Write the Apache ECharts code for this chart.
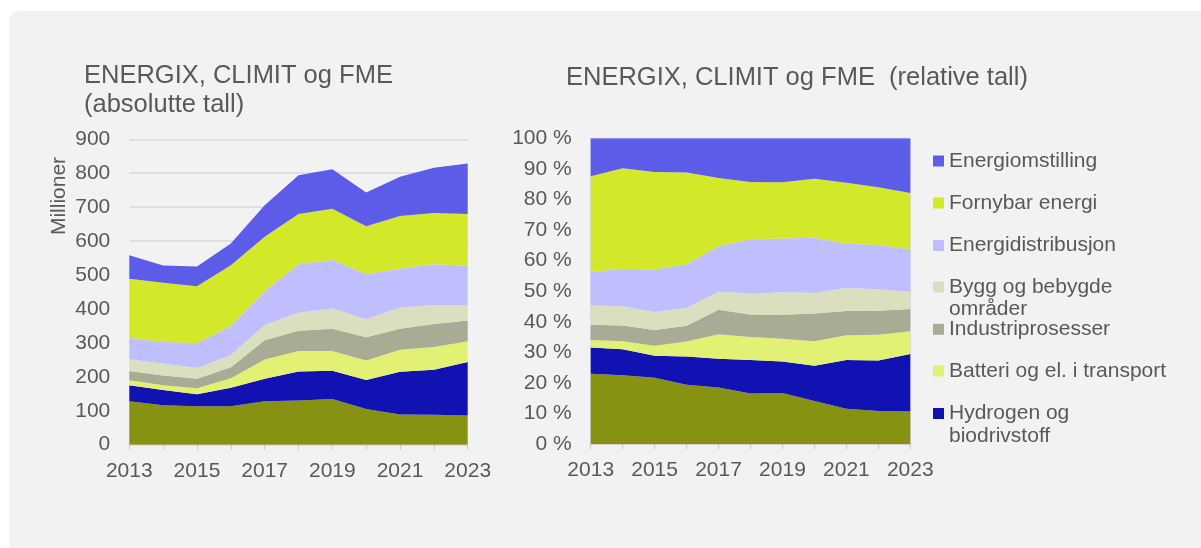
<!DOCTYPE html>
<html>
<head>
<meta charset="utf-8">
<script src="https://cdn.jsdelivr.net/npm/echarts@6/dist/echarts.min.js"></script>
<style>
  html, body { margin: 0; padding: 0; background: #ffffff; width: 1201px; height: 548px; overflow: hidden; }
  #panel { position: absolute; left: 9px; top: 11px; width: 1220px; height: 560px; background: #f2f2f2; border-radius: 10px; }
  #chart { position: absolute; left: 0; top: 0; width: 1201px; height: 548px; }
</style>
</head>
<body>
<div id="panel"></div>
<div id="chart"></div>
<script>
// ---- Data ----
const years = ['2013','2014','2015','2016','2017','2018','2019','2020','2021','2022','2023'];

const seriesNames = ['Øvrig','Hydrogen og biodrivstoff','Batteri og el. i transport','Industriprosesser',
  'Bygg og bebygde områder','Energidistribusjon','Fornybar energi','Energiomstilling'];

// absolute values (millioner)
const ovrigAbs      = [128,116,113,113,128,130,135,105, 89, 88, 86];
const hydrogenAbs   = [ 47, 45, 36, 55, 66, 86, 83, 86,126,133,158];
const batteriAbs    = [ 15, 14, 17, 28, 57, 60, 58, 57, 65, 67, 61];
const industriAbs   = [ 27, 29, 28, 32, 57, 60, 66, 69, 62, 68, 61];
const byggAbs       = [ 35, 35, 32, 36, 45, 53, 60, 53, 62, 56, 46];
const distAbs       = [ 63, 64, 74, 86,100,143,143,132,115,120,116];
const fornybarAbs   = [174,174,167,179,160,148,150,142,155,151,152];
const omstillingAbs = [ 69, 51, 58, 64, 93,114,117, 99,116,133,149];

// relative values (%)
const ovrigRel      = [23.0,22.5,21.7,19.4,18.5,16.5,16.7,14.1,11.5,10.8,10.6];
const hydrogenRel   = [ 8.6, 8.5, 7.2, 9.2, 9.4,11.0,10.3,11.5,16.0,16.5,18.8];
const batteriRel    = [ 2.4, 2.6, 3.2, 4.9, 8.0, 7.5, 7.4, 8.0, 8.1, 8.4, 7.5];
const industriRel   = [ 5.0, 5.2, 5.2, 5.2, 8.0, 7.4, 7.9, 9.1, 7.9, 7.9, 7.3];
const byggRel       = [ 6.3, 6.3, 5.9, 5.9, 5.9, 6.8, 7.3, 6.8, 7.5, 7.0, 5.5];
const distRel       = [11.0,12.2,13.9,14.2,14.9,17.8,17.6,18.0,14.5,14.5,14.0];
const fornybarRel   = [31.3,32.9,31.9,30.0,22.3,18.7,18.4,19.3,20.0,18.9,18.4];
const omstillingRel = [12.4, 9.8,11.0,11.2,13.0,14.3,14.4,13.2,14.5,16.0,17.9];

const absTicks = [0,100,200,300,400,500,600,700,800,900];
const relTicks = [0,10,20,30,40,50,60,70,80,90,100];

// ---- Styling ----
const colors = ['#879212','#1212b3','#e2f073','#a8ac94','#dadfc0','#bfbfff','#d4e82a','#5c5ce9'];
const FONT = "'Liberation Sans', Arial, sans-serif";
const TXT = '#595959';

const absData = [ovrigAbs,hydrogenAbs,batteriAbs,industriAbs,byggAbs,distAbs,fornybarAbs,omstillingAbs];
const relData = [ovrigRel,hydrogenRel,batteriRel,industriRel,byggRel,distRel,fornybarRel,omstillingRel];

function makeSeries(dataArr, idx, stack) {
  return dataArr.map((d, i) => ({
    name: seriesNames[i],
    type: 'line',
    xAxisIndex: idx, yAxisIndex: idx,
    stack: stack,
    data: d,
    symbol: 'none',
    showSymbol: false,
    lineStyle: { width: 0 },
    itemStyle: { color: colors[i] },
    areaStyle: { color: colors[i], opacity: 1 },
    emphasis: { disabled: true },
    z: 2
  }));
}

// legend: one component per item, centres
const legendItems = [
  { name: 'Energiomstilling', label: 'Energiomstilling', c: 161 },
  { name: 'Fornybar energi', label: 'Fornybar energi', c: 203 },
  { name: 'Energidistribusjon', label: 'Energidistribusjon', c: 245.5 },
  { name: 'Bygg og bebygde områder', label: 'Bygg og bebygde', second: 'områder', c: 287 },
  { name: 'Industriprosesser', label: 'Industriprosesser', c: 329.3 },
  { name: 'Batteri og el. i transport', label: 'Batteri og el. i transport', c: 371 },
  { name: 'Hydrogen og biodrivstoff', label: 'Hydrogen og', second: 'biodrivstoff', c: 413.5 }
];
const LH = 22.5;
const LEG_X = 933;
const legends = legendItems.map(it => ({
  show: true,
  left: LEG_X,
  top: it.c - LH / 2,
  orient: 'vertical',
  padding: 0,
  itemWidth: 11,
  itemHeight: 11,
  icon: 'rect',
  selectedMode: false,
  data: [it.name],
  formatter: () => it.label,
  textStyle: { fontSize: 21, fontFamily: FONT, color: TXT, lineHeight: LH }
}));
const legendSecondLines = legendItems.filter(it => it.second).map(it => ({
  type: 'text', x: LEG_X + 11 + 5, y: it.c + LH,
  style: { text: it.second, fontSize: 21, fontFamily: FONT, fill: TXT, align: 'left', verticalAlign: 'middle' }
}));

const xAxisCommon = {
  type: 'category',
  data: years,
  boundaryGap: false,
  axisLine: { show: true, lineStyle: { color: '#d0d0d0', width: 1 } },
  axisTick: { show: true, interval: 0, length: 5, lineStyle: { color: '#c8c8c8' } },
  axisLabel: { interval: 1, fontSize: 21, fontFamily: FONT, color: TXT, margin: 16, showMaxLabel: true },
  splitLine: { show: false }
};

const option = {
  animation: false,
  backgroundColor: 'transparent',
  title: [
    { text: 'ENERGIX, CLIMIT og FME\n(absolutte tall)', left: 84, top: 62, padding: 0,
      textStyle: { fontSize: 25.5, fontWeight: 'normal', fontFamily: FONT, color: TXT, lineHeight: 28.5 } },
    { text: 'ENERGIX, CLIMIT og FME  (relative tall)', left: 566, top: 64, padding: 0,
      textStyle: { fontSize: 25.5, fontWeight: 'normal', fontFamily: FONT, color: TXT, lineHeight: 28.5 } }
  ],
  legend: legends,
  grid: [
    { left: 129.3, top: 139.3, width: 338.4, height: 305.4, containLabel: false, show: false },
    { left: 590.7, top: 138.3, width: 319.6, height: 305.7, containLabel: false, show: true,
      borderColor: '#d4d4ec', borderWidth: 1, backgroundColor: 'transparent' }
  ],
  xAxis: [
    Object.assign({ gridIndex: 0 }, xAxisCommon),
    Object.assign({ gridIndex: 1 }, xAxisCommon)
  ],
  yAxis: [
    { gridIndex: 0, type: 'value', min: absTicks[0], max: absTicks[absTicks.length - 1], interval: 100,
      axisLine: { show: false }, axisTick: { show: false },
      axisLabel: { fontSize: 21, fontFamily: FONT, color: TXT, margin: 19 },
      splitLine: { show: true, lineStyle: { color: '#d9d9d9', width: 1.5 } } },
    { gridIndex: 1, type: 'value', min: relTicks[0], max: relTicks[relTicks.length - 1], interval: 10,
      axisLine: { show: false }, axisTick: { show: false },
      axisLabel: { fontSize: 21, fontFamily: FONT, color: TXT, margin: 19, formatter: v => v + ' %' },
      splitLine: { show: false } }
  ],
  graphic: [
    { type: 'text', x: 59, y: 196, rotation: Math.PI / 2,
      style: { text: 'Millioner', fontSize: 21, fontFamily: FONT, fill: TXT, align: 'center', verticalAlign: 'middle' } }
  ].concat(legendSecondLines),
  series: [].concat(makeSeries(absData, 0, 'abs'), makeSeries(relData, 1, 'rel'))
};

const chart = echarts.init(document.getElementById('chart'), null, { renderer: 'canvas' });
chart.setOption(option);
</script>
</body>
</html>
